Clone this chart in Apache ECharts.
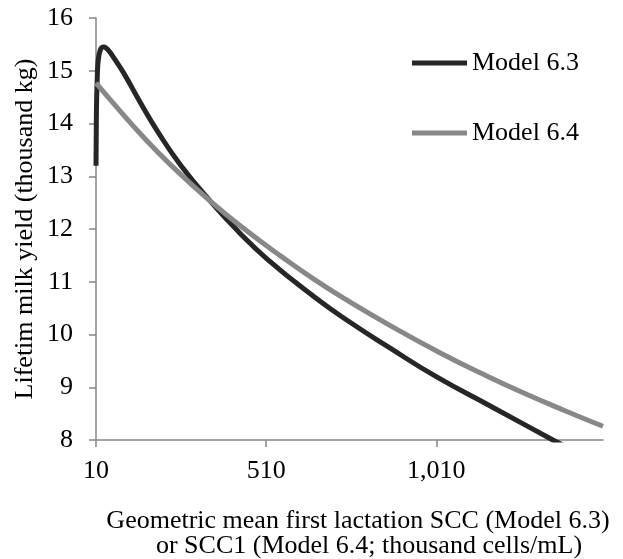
<!DOCTYPE html>
<html>
<head>
<meta charset="utf-8">
<script src="https://cdn.jsdelivr.net/npm/echarts@6/dist/echarts.min.js"></script>
<style>
html,body{margin:0;padding:0;background:#fff;}
#chart{width:623px;height:559px;}
</style>
</head>
<body>
<div id="chart"></div>
<script>
// ---- data ----
const xTicks = [10, 510, 1010];
const yTicks = [8, 9, 10, 11, 12, 13, 14, 15, 16];

const scc63 = [10, 11, 12, 13.5, 15, 18, 22, 27, 33, 40, 50, 65, 92, 141, 190, 260, 351, 430, 513, 650, 750, 870, 1010, 1170, 1350, 1380];
const yield63 = [13.2, 14.05, 14.5, 14.82, 15.08, 15.27, 15.38, 15.44, 15.45, 15.43, 15.36, 15.22, 14.95, 14.39, 13.86, 13.2, 12.49, 11.94, 11.43, 10.72, 10.26, 9.76, 9.2, 8.64, 8.01, 7.91];

const scc64 = [10, 60, 141, 230, 351, 450, 552, 650, 748, 880, 1022, 1150, 1267, 1390, 1500];
const yield64 = [14.77, 14.39, 13.8, 13.21, 12.5, 11.98, 11.49, 11.05, 10.65, 10.15, 9.65, 9.24, 8.89, 8.55, 8.26];

const seriesNames = ['Model 6.3', 'Model 6.4'];
const yTitle = 'Lifetim milk yield (thousand kg)';
const xTitle1 = 'Geometric mean first lactation SCC (Model 6.3)';
const xTitle2 = 'or SCC1 (Model 6.4; thousand cells/mL)';

const FONT = '"Liberation Serif", "Times New Roman", serif';
const AXIS = '#868686';

const chart = echarts.init(document.getElementById('chart'), null, {renderer: 'canvas'});
const pairs = (xs, ys) => xs.map((x, i) => [x, ys[i]]);

chart.setOption({
  animation: false,
  backgroundColor: '#ffffff',
  grid: {left: 96, right: 20, top: 18, bottom: 119, containLabel: false},
  legend: {
    orient: 'vertical',
    left: 412,
    top: 50,
    padding: 0,
    itemWidth: 55,
    itemHeight: 5,
    itemGap: 44,
    icon: 'rect',
    textStyle: {fontFamily: FONT, fontSize: 26, color: '#000', lineHeight: 26},
    data: seriesNames
  },
  xAxis: {
    type: 'value',
    min: 10,
    max: 1500,
    splitLine: {show: false},
    axisLine: {show: true, lineStyle: {color: AXIS, width: 1.5}},
    axisTick: {show: true, length: 7, customValues: xTicks, lineStyle: {color: AXIS, width: 1.5}},
    axisLabel: {
      customValues: xTicks,
      margin: 18,
      fontFamily: FONT, fontSize: 26, color: '#000',
      formatter: v => v.toLocaleString('en-US')
    }
  },
  yAxis: {
    type: 'value',
    min: 8,
    max: 16,
    interval: 1,
    splitLine: {show: false},
    axisLine: {show: true, lineStyle: {color: AXIS, width: 1.5}},
    axisTick: {show: true, length: 7, lineStyle: {color: AXIS, width: 1.5}},
    axisLabel: {margin: 23, fontFamily: FONT, fontSize: 26, color: '#000'}
  },
  graphic: [
    {type: 'text', x: 25, y: 229, rotation: Math.PI / 2,
     style: {text: yTitle, font: '26px ' + FONT, fill: '#000', align: 'center', verticalAlign: 'middle'}},
    {type: 'text', x: 358, y: 521,
     style: {text: xTitle1, font: '26px ' + FONT, fill: '#000', align: 'center', verticalAlign: 'middle'}},
    {type: 'text', x: 369, y: 546,
     style: {text: xTitle2, font: '26px ' + FONT, fill: '#000', align: 'center', verticalAlign: 'middle'}}
  ],
  series: [
    {
      name: seriesNames[0], type: 'line', showSymbol: false, smooth: 0.5,
      color: '#262626',
      lineStyle: {color: '#262626', width: 5},
      data: pairs(scc63, yield63)
    },
    {
      name: seriesNames[1], type: 'line', showSymbol: false, smooth: 0.5,
      color: '#888888',
      lineStyle: {color: '#888888', width: 5},
      data: pairs(scc64, yield64)
    }
  ]
});
</script>
</body>
</html>
